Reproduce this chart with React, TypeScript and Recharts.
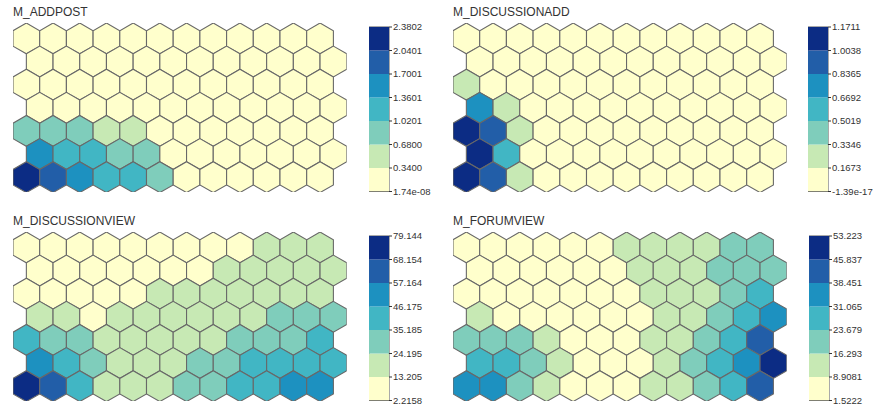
import { ScatterChart, Scatter, XAxis, YAxis, BarChart, Bar, ReferenceArea } from 'recharts';

// YlGnBu, 7 classes
const PALETTE = ['#ffffcc', '#c7e9b4', '#7fcdbb', '#41b6c4', '#1d91c0', '#225ea8', '#0c2c84'];

const TITLES = ['M_ADDPOST', 'M_DISCUSSIONADD', 'M_DISCUSSIONVIEW', 'M_FORUMVIEW'];

// colour class of each SOM unit, top row first (rows 2, 4, 6 shifted half a cell right)
const addpostLevels = [
  '000000000000',
  '000000000000',
  '000000000000',
  '000000000000',
  '222110000000',
  '433220000000',
  '654332000000',
];
const discussionAddLevels = [
  '000000000000',
  '000000000000',
  '100000000000',
  '410000000000',
  '651000000000',
  '630000000000',
  '651000000000',
];
const discussionViewLevels = [
  '000000000111',
  '000000011111',
  '000001111111',
  '110111111222',
  '322111112223',
  '432111223333',
  '653111223344',
];
const forumViewLevels = [
  '000000111122',
  '000000111222',
  '000000011123',
  '100000011234',
  '222100011235',
  '332100012346',
  '442100011235',
];

const addpostTicks = [1.74e-8, 0.34, 0.68, 1.0201, 1.3601, 1.7001, 2.0401, 2.3802];
const addpostTickLabels = ['1.74e-08', '0.3400', '0.6800', '1.0201', '1.3601', '1.7001', '2.0401', '2.3802'];
const discussionAddTicks = [-1.39e-17, 0.1673, 0.3346, 0.5019, 0.6692, 0.8365, 1.0038, 1.1711];
const discussionAddTickLabels = ['-1.39e-17', '0.1673', '0.3346', '0.5019', '0.6692', '0.8365', '1.0038', '1.1711'];
const discussionViewTicks = [2.2158, 13.205, 24.195, 35.185, 46.175, 57.164, 68.154, 79.144];
const discussionViewTickLabels = ['2.2158', '13.205', '24.195', '35.185', '46.175', '57.164', '68.154', '79.144'];
const forumViewTicks = [1.5222, 8.9081, 16.293, 23.679, 31.065, 38.451, 45.837, 53.223];
const forumViewTickLabels = ['1.5222', '8.9081', '16.293', '23.679', '31.065', '38.451', '45.837', '53.223'];

const ROWS = 7;
const HEX_W = 26.7; // px between neighbouring centres
const ROW_STEP = Math.sqrt(3) / 2;
const HEX_R = HEX_W / Math.sqrt(3);
const FONT = '"Liberation Sans", Arial, Helvetica, sans-serif';

function hexData(levels: string[]) {
  return levels.flatMap((row, r) =>
    row.split('').map((ch, c) => ({
      x: c + (r % 2 === 1 ? 0.5 : 0),
      y: (ROWS - 1 - r) * ROW_STEP,
      level: Number(ch),
    }))
  );
}

const Hexagon = (props: any) => {
  const { cx, cy, payload } = props;
  if (cx == null || cy == null) return null;
  const pts = [];
  for (let i = 0; i < 6; i++) {
    const a = ((-90 + 60 * i) * Math.PI) / 180;
    pts.push(`${cx + HEX_R * Math.cos(a)},${cy + HEX_R * Math.sin(a)}`);
  }
  return <polygon points={pts.join(' ')} fill={PALETTE[payload.level]} stroke="#686868" strokeWidth={1.1} />;
};

function HexMap({ levels }: { levels: string[] }) {
  const yMax = (ROWS - 1) * ROW_STEP + 1 / Math.sqrt(3);
  const yMin = -1 / Math.sqrt(3);
  return (
    <ScatterChart width={12.5 * HEX_W} height={(yMax - yMin) * HEX_W} margin={{ top: 0, right: 0, bottom: 0, left: 0 }}>
      <XAxis type="number" dataKey="x" domain={[-0.5, 12]} hide allowDataOverflow />
      <YAxis type="number" dataKey="y" domain={[yMin, yMax]} hide allowDataOverflow />
      <Scatter data={hexData(levels)} shape={Hexagon} isAnimationActive={false} />
    </ScatterChart>
  );
}

function ColorBar({ ticks, labels }: { ticks: number[]; labels: string[] }) {
  const row: Record<string, number | string> = { name: 'bar', base: ticks[0] };
  for (let i = 0; i < 7; i++) row[`s${i}`] = ticks[i + 1] - ticks[i];
  return (
    <BarChart width={70} height={164.5 + 12} data={[row]} margin={{ top: 6, right: 0, bottom: 6, left: 0 }} barCategoryGap={0}>
      <XAxis dataKey="name" hide />
      <YAxis
        orientation="right"
        type="number"
        domain={[ticks[0], ticks[7]]}
        allowDataOverflow
        ticks={ticks}
        interval={0}
        width={50}
        tickSize={3}
        tickMargin={1}
        axisLine={false}
        tickFormatter={(v: number, i: number) => labels[i] ?? String(v)}
        tick={{ fontSize: 9.5, fill: '#333', fontFamily: FONT }}
        tickLine={{ stroke: '#333' }}
      />
      <Bar dataKey="base" stackId="c" fill="none" isAnimationActive={false} />
      {[0, 1, 2, 3, 4, 5, 6].map((i) => (
        <Bar key={i} dataKey={`s${i}`} stackId="c" fill={PALETTE[i]} isAnimationActive={false} />
      ))}
      <ReferenceArea y1={ticks[0]} y2={ticks[7]} fill="none" stroke="#555" strokeWidth={1} ifOverflow="visible" />
    </BarChart>
  );
}

const PANELS = [
  { title: TITLES[0], levels: addpostLevels, ticks: addpostTicks, labels: addpostTickLabels, ox: 0, oy: 0, barX: 369.3 },
  { title: TITLES[1], levels: discussionAddLevels, ticks: discussionAddTicks, labels: discussionAddTickLabels, ox: 440, oy: 0, barX: 368.3 },
  { title: TITLES[2], levels: discussionViewLevels, ticks: discussionViewTicks, labels: discussionViewTickLabels, ox: 0, oy: 209, barX: 369.3 },
  { title: TITLES[3], levels: forumViewLevels, ticks: forumViewTicks, labels: forumViewTickLabels, ox: 440, oy: 209, barX: 368.8 },
];

export default function App() {
  return (
    <div style={{ position: 'absolute', left: 0, top: 0, width: 873, height: 409, background: '#fff', fontFamily: FONT, overflow: 'hidden' }}>
      {PANELS.map((p) => (
        <div key={p.title} style={{ position: 'absolute', left: p.ox, top: p.oy, width: 433, height: 209 }}>
          <div style={{ position: 'absolute', left: 13, top: 5, fontSize: 12, lineHeight: '14px', color: '#333', whiteSpace: 'nowrap' }}>
            {p.title}
          </div>
          <div style={{ position: 'absolute', left: 13.3, top: 22.7 }}>
            <HexMap levels={p.levels} />
          </div>
          <div style={{ position: 'absolute', left: p.barX, top: 26.5 - 6 }}>
            <ColorBar ticks={p.ticks} labels={p.labels} />
          </div>
        </div>
      ))}
    </div>
  );
}
